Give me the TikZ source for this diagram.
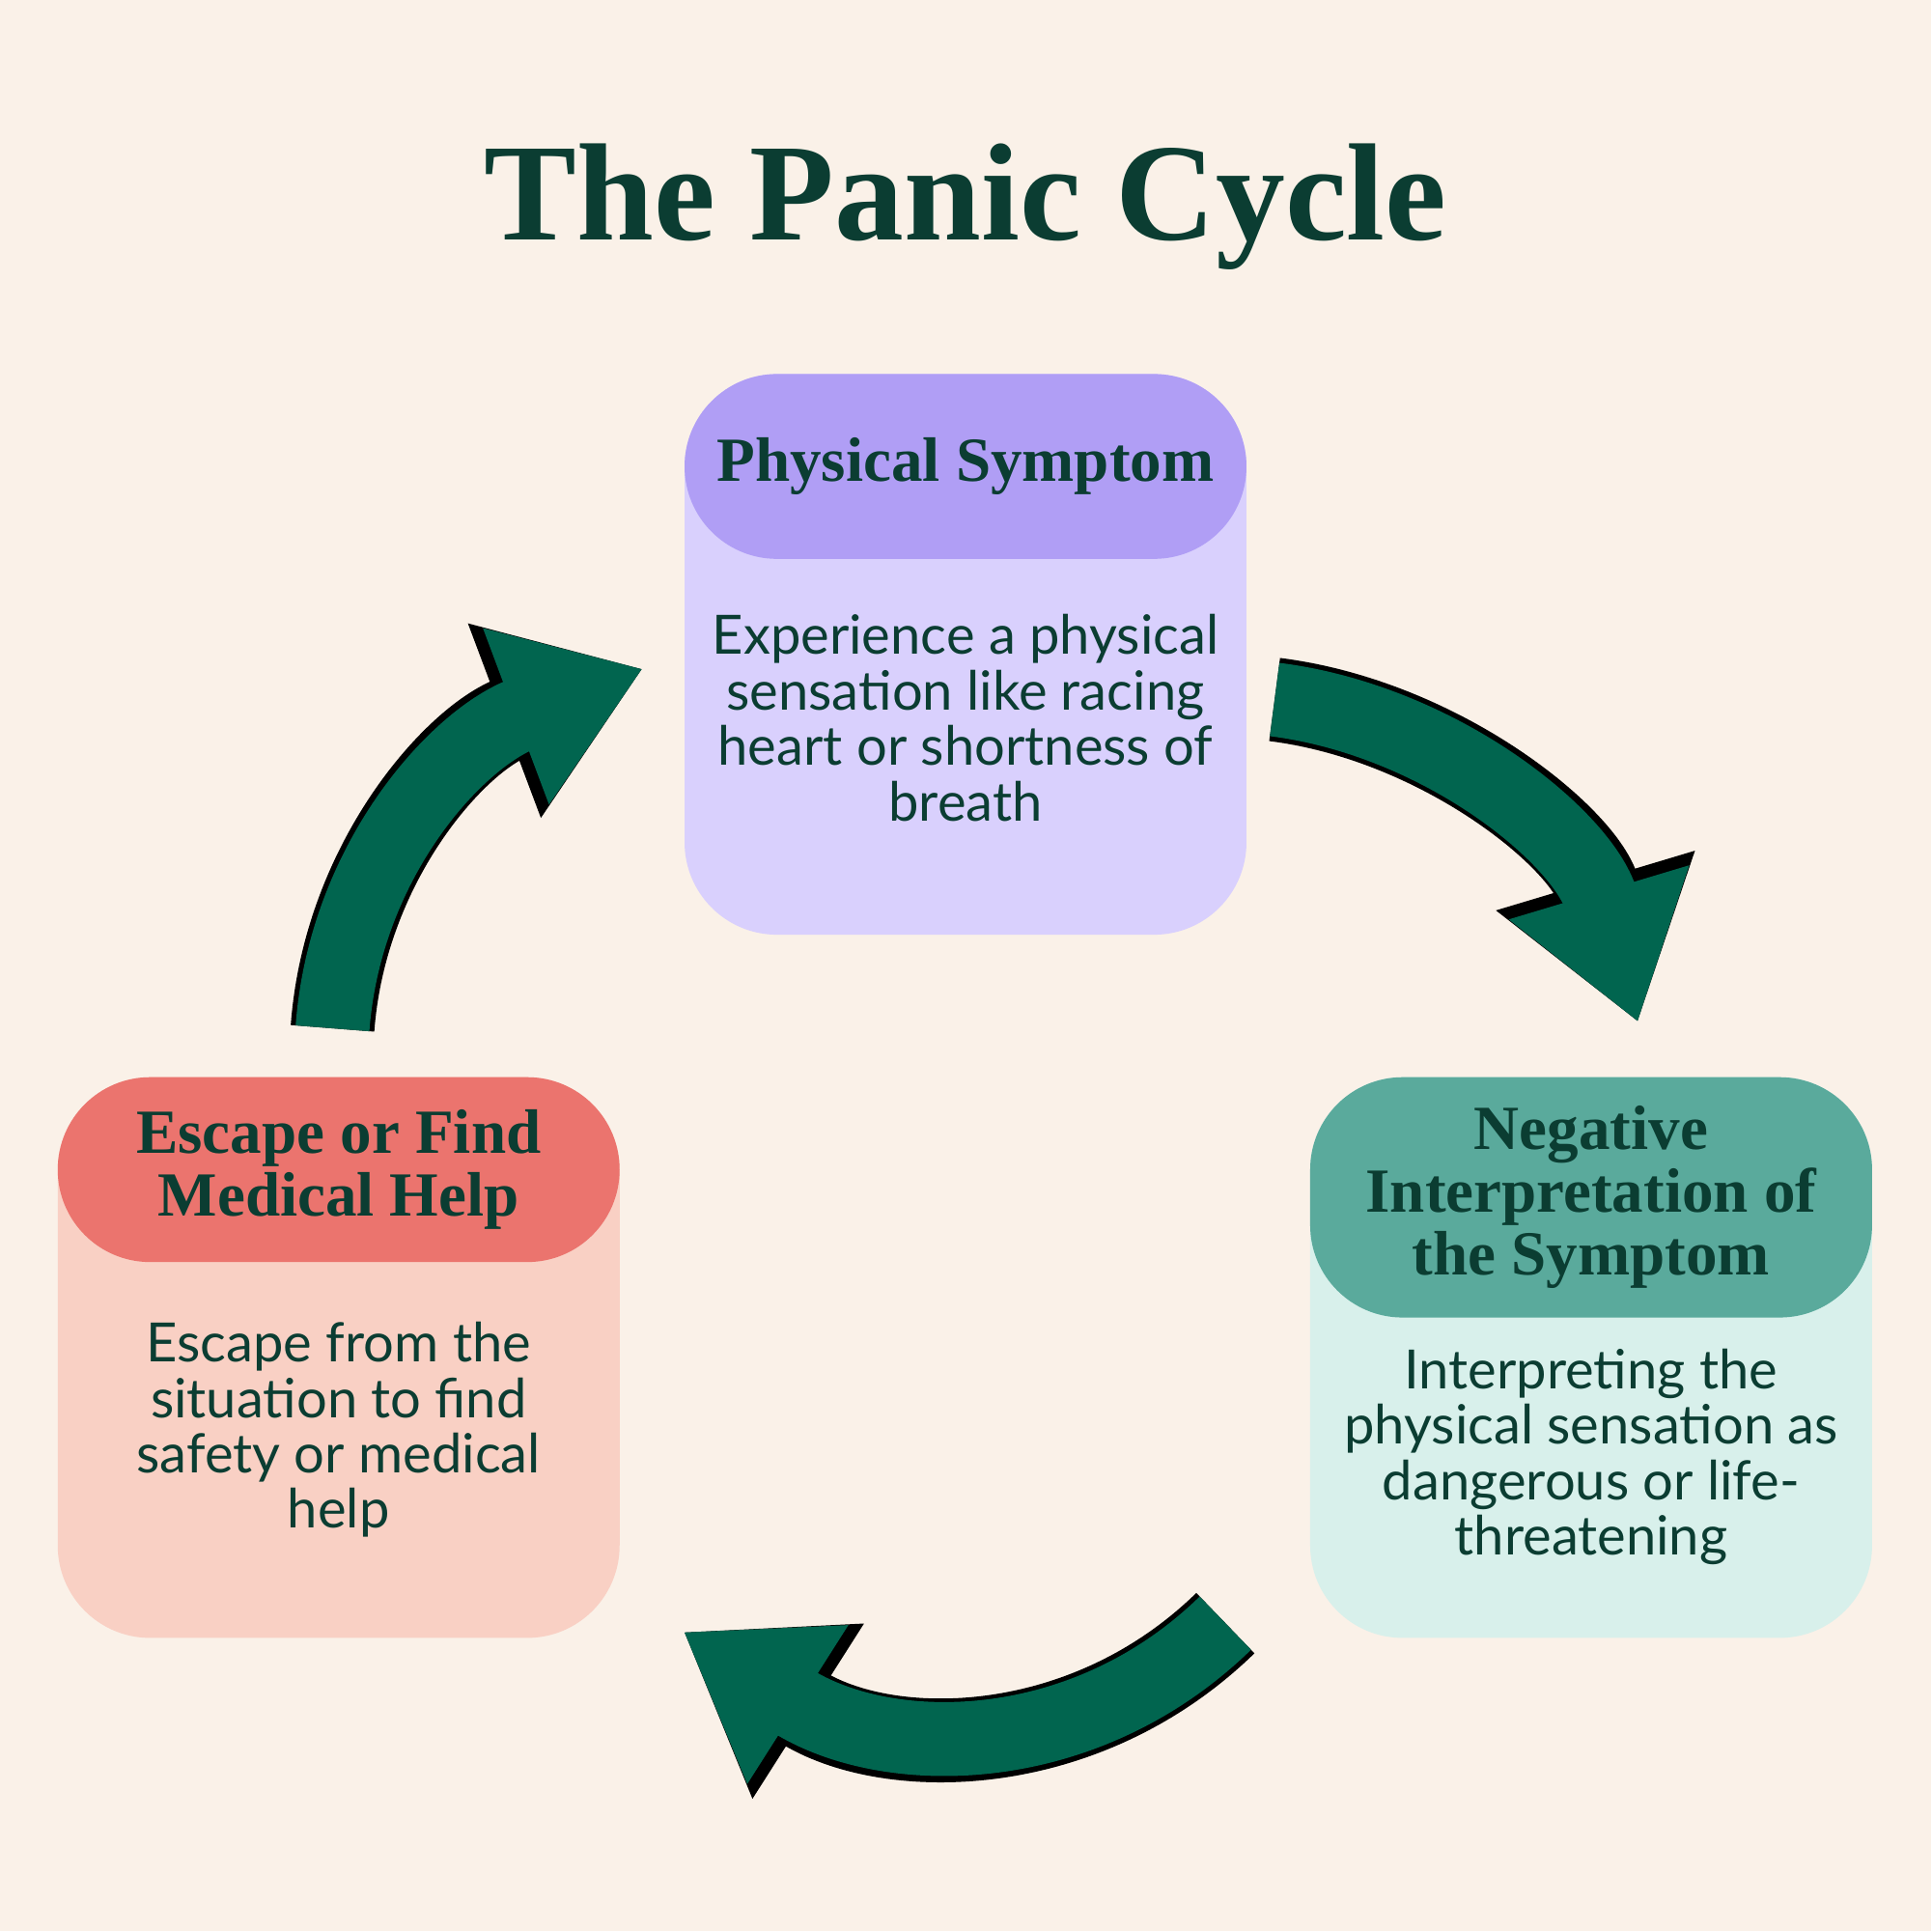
\documentclass[tikz,border=0pt]{standalone}
\usepackage{fontspec}
\setmainfont{Liberation Serif}
\newfontfamily\bodyfont{Lato}
\usetikzlibrary{arrows.meta}
\definecolor{bgcol}{HTML}{FAF1E8}
\definecolor{inkcol}{HTML}{0B3D32}
\definecolor{arrcol}{HTML}{01654F}
\definecolor{purhead}{HTML}{B09EF5}
\definecolor{purbody}{HTML}{D9D0FD}
\definecolor{grnhead}{HTML}{5AAA9C}
\definecolor{grnbody}{HTML}{D8F0EB}
\definecolor{redhead}{HTML}{EB746E}
\definecolor{redbody}{HTML}{F9D0C4}
\tikzset{
  boxbody/.style={rounded corners=0.75cm, minimum width=4.56cm, minimum height=4.55cm, anchor=north},
  boxhead/.style={rounded corners=0.75cm, minimum width=4.56cm, anchor=north, text=inkcol,
    font=\bfseries\fontsize{14.5}{14.5}\selectfont, align=center, inner sep=0pt},
  boxtext/.style={text=inkcol, font=\bodyfont\fontsize{12.5}{12.8}\selectfont, align=center},
  arrblack/.style={black, line width=0.68cm, -{Triangle[length=1.2cm, width=1.6cm]}},
  arrgreen/.style={arrcol, line width=0.6cm, -{Triangle[length=1.1cm, width=1.45cm]}}
}
\begin{document}
\begin{tikzpicture}[x=0.01cm,y=-0.01cm]
\fill[bgcol] (0,0) rectangle (1568,1568);
\useasboundingbox (0,0) rectangle (1568,1568);

\node[text=inkcol, font=\bfseries\fontsize{32}{36}\selectfont] (title) at (784,168) {The Panic Cycle};

% top box
\node[boxbody, fill=purbody] (physbody) at (784,303) {};
\node[boxhead, fill=purhead, minimum height=1.5cm] (physhead) at (784,303) {Physical Symptom};
\node[boxtext] (phystext) at (784,583) {Experience a physical\\sensation like racing\\heart or shortness of\\breath};

% right box
\node[boxbody, fill=grnbody] (negbody) at (1292,874) {};
\node[boxhead, fill=grnhead, minimum height=1.95cm] (neghead) at (1292,874) {Negative\\Interpretation of\\the Symptom};
\node[boxtext] (negtext) at (1292,1183) {Interpreting the\\physical sensation as\\dangerous or life-\\threatening};

% left box
\node[boxbody, fill=redbody] (escbody) at (275,874) {};
\node[boxhead, fill=redhead, minimum height=1.5cm] (eschead) at (275,874) {Escape or Find\\Medical Help};
\node[boxtext] (esctext) at (275,1161) {Escape from the\\situation to find\\safety or medical\\help};

% arrows
\coordinate (a1s) at (270,835);
\coordinate (a1e) at (522,543);
\coordinate (a2s) at (1035,568);
\coordinate (a2e) at (1330,830);
\coordinate (a3s) at (995,1318);
\coordinate (a3e) at (555,1325);
\draw[arrblack] (a1s) .. controls (280,700) and (370,600) .. (a1e);
\draw[arrgreen] (a1s) .. controls (280,700) and (370,600) .. (a1e);
\draw[arrblack] (a2s) .. controls (1170,585) and (1285,680) .. (a2e);
\draw[arrgreen] (a2s) .. controls (1170,585) and (1285,680) .. (a2e);
\draw[arrblack] (a3s) .. controls (880,1430) and (720,1430) .. (a3e);
\draw[arrgreen] (a3s) .. controls (880,1430) and (720,1430) .. (a3e);
\end{tikzpicture}
\end{document}
